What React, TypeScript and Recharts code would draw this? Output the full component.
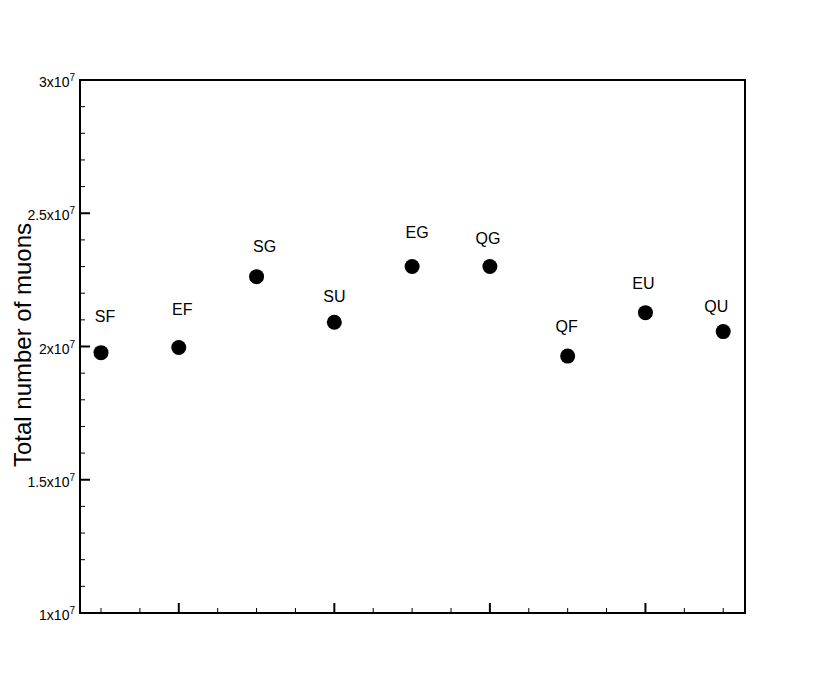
import React from 'react';
import { ScatterChart, Scatter, XAxis, YAxis, ReferenceArea } from 'recharts';

const categories = ['SF', 'EF', 'SG', 'SU', 'EG', 'QG', 'QF', 'EU', 'QU'];
const positions = [1, 2, 3, 4, 5, 6, 7, 8, 9];
const muonTotals = [1.977e7, 1.996e7, 2.262e7, 2.091e7, 2.3e7, 2.3e7, 1.964e7, 2.127e7, 2.056e7];

const xTicks = [1, 1.5, 2, 2.5, 3, 3.5, 4, 4.5, 5, 5.5, 6, 6.5, 7, 7.5, 8, 8.5, 9];
const xMajorTicks = [2, 4, 6, 8];
const yTicks = [
  1e7, 1.1e7, 1.2e7, 1.3e7, 1.4e7, 1.5e7, 1.6e7, 1.7e7, 1.8e7, 1.9e7, 2e7,
  2.1e7, 2.2e7, 2.3e7, 2.4e7, 2.5e7, 2.6e7, 2.7e7, 2.8e7, 2.9e7, 3e7,
];
const yMajorTicks = ['1', '1.5', '2', '2.5', '3'];

// label offsets (px) relative to each marker: [dx, dy of baseline]
const labelOffsets: Record<string, [number, number]> = {
  SF: [4, -31],
  EF: [3.5, -33],
  SG: [8, -25],
  SU: [0, -20],
  EG: [5, -29],
  QG: [-2, -23],
  QF: [-1, -24],
  EU: [-2, -24],
  QU: [-7, -20],
};

const data = categories.map((name, i) => ({ name, x: positions[i], y: muonTotals[i] }));

const FONT = '"Liberation Sans", Arial, Helvetica, sans-serif';
const X_DOMAIN: [number, number] = [0.73, 9.28];
const Y_DOMAIN: [number, number] = [1e7, 3e7];

const YTick = (props: any) => {
  const { x, y, payload } = props;
  const mant = String(Math.round(payload.value / 1e6) / 10);
  const major = yMajorTicks.includes(mant);
  return (
    <g>
      <line x1={x} x2={x + (major ? 10 : 5)} y1={y} y2={y} stroke="#000" strokeWidth={major ? 2 : 1} />
      {major && (
        <text x={x - 5} y={y + 7} textAnchor="end" fontFamily={FONT} fontSize={14} fill="#000">
          {mant + 'x10'}
          <tspan dy={-6} fontSize={10}>7</tspan>
        </text>
      )}
    </g>
  );
};

const XTick = (props: any) => {
  const { x, y, payload } = props;
  const major = xMajorTicks.includes(payload.value);
  return (
    <line x1={x} x2={x} y1={y} y2={y - (major ? 10 : 5)} stroke="#000" strokeWidth={major ? 2 : 1} />
  );
};

const Marker = (props: any) => {
  const { cx, cy, payload } = props;
  const off = labelOffsets[payload.name] || [0, -28];
  return (
    <g>
      <circle cx={cx} cy={cy} r={7.5} fill="#000" />
      <text x={cx + off[0]} y={cy + off[1]} textAnchor="middle" fontFamily={FONT} fontSize={16} fill="#000">
        {payload.name}
      </text>
    </g>
  );
};

export default function App() {
  return (
    <div style={{ width: 817, height: 685, background: '#fff' }}>
      <ScatterChart width={817} height={685} margin={{ top: 72, right: 80, bottom: 50, left: 0 }}>
        <XAxis
          type="number"
          dataKey="x"
          domain={X_DOMAIN}
          ticks={xTicks}
          interval={0}
          allowDataOverflow
          axisLine={false}
          tickLine={false}
          tickSize={0}
          tickMargin={0}
          tick={<XTick />}
          height={30}
        />
        <YAxis
          type="number"
          dataKey="y"
          domain={Y_DOMAIN}
          ticks={yTicks}
          interval={0}
          allowDataOverflow
          axisLine={false}
          tickLine={false}
          tickSize={0}
          tickMargin={0}
          tick={<YTick />}
          width={72}
        />
        <ReferenceArea
          x1={X_DOMAIN[0]}
          x2={X_DOMAIN[1]}
          y1={Y_DOMAIN[0]}
          y2={Y_DOMAIN[1]}
          fill="none"
          fillOpacity={0}
          stroke="#000"
          strokeWidth={2}
          ifOverflow="visible"
        />
        <Scatter data={data} shape={<Marker />} isAnimationActive={false} />
        <text
          x={23}
          y={337}
          transform="rotate(-90, 23, 337)"
          textAnchor="middle"
          fontFamily={FONT}
          fontSize={24}
          fill="#000"
        >
          Total number of muons
        </text>
      </ScatterChart>
    </div>
  );
}
